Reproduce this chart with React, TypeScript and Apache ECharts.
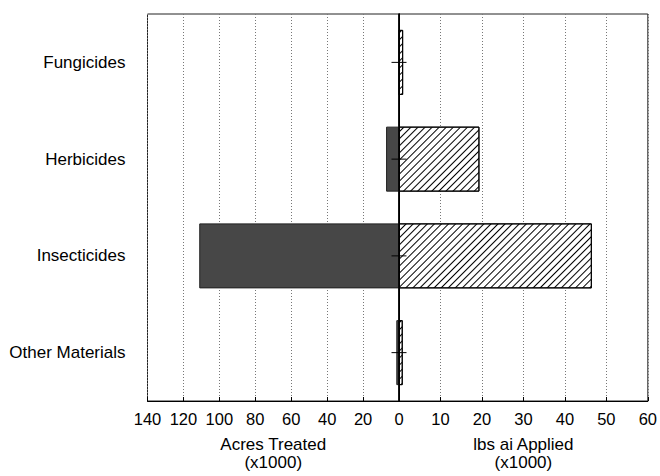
import React, { useEffect, useRef } from "react";
import * as echarts from "echarts";

const categories = ["Fungicides", "Herbicides", "Insecticides", "Other Materials"];
const acresTreated = [0.3, 7.2, 111.2, 1.5];
const lbsApplied = [1.0, 19.4, 46.5, 0.9];
const markerValues = [0, 0, 0, 0];
const acresTicks = { min: 0, max: 140, interval: 20 };
const lbsTicks = { min: 0, max: 60, interval: 10 };

const FONT = "'Liberation Sans', Arial, sans-serif";

export default function App() {
  const ref = useRef<HTMLDivElement>(null);
  useEffect(() => {
    document.body.style.margin = "0";
    const chart = echarts.init(ref.current!, undefined, { renderer: "svg" });
    const gridCommon = { top: 14, bottom: 72, show: true, borderColor: "#222", borderWidth: 1, backgroundColor: "transparent" };
    const xCommon = {
      type: "value" as const,
      axisLine: { show: true, lineStyle: { color: "#000", width: 1 } },
      axisTick: { show: true, inside: true, length: 4, lineStyle: { color: "#000" } },
      splitLine: { show: true, lineStyle: { color: "#777", type: [1, 2], width: 1 } },
      axisLabel: { color: "#000", fontSize: 16.5, fontFamily: FONT, margin: 9 },
      nameLocation: "middle" as const,
      nameGap: 34,
      nameTextStyle: { color: "#000", fontSize: 17, fontFamily: FONT, lineHeight: 18 },
    };
    chart.setOption({
      animation: false,
      grid: [
        { ...gridCommon, left: 147.5, right: 261 },
        { ...gridCommon, left: 399, right: 9.5 },
      ],
      xAxis: [
        {
          ...xCommon,
          gridIndex: 0,
          inverse: true,
          min: acresTicks.min,
          max: acresTicks.max,
          interval: acresTicks.interval,
          name: "Acres Treated\n(x1000)",
        },
        {
          ...xCommon,
          gridIndex: 1,
          min: lbsTicks.min,
          max: lbsTicks.max,
          interval: lbsTicks.interval,
          name: "lbs ai Applied\n(x1000)",
          axisLabel: { ...xCommon.axisLabel, showMinLabel: false },
        },
      ],
      yAxis: [
        {
          type: "category",
          gridIndex: 0,
          data: categories,
          inverse: true,
          axisLine: { show: true, lineStyle: { color: "#000", width: 1 } },
          axisTick: { show: false },
          axisLabel: { color: "#000", fontSize: 17, fontFamily: FONT, margin: 22 },
        },
        {
          type: "category",
          gridIndex: 1,
          data: categories,
          inverse: true,
          axisLine: { show: true, lineStyle: { color: "#000", width: 1.5 } },
          axisTick: { show: false },
          axisLabel: { show: false },
          z: 10,
        },
      ],
      series: [
        {
          type: "bar",
          xAxisIndex: 0,
          yAxisIndex: 0,
          data: acresTreated,
          barWidth: 65,
          itemStyle: { color: "#474747", borderColor: "#222", borderWidth: 1 },
        },
        {
          type: "bar",
          xAxisIndex: 1,
          yAxisIndex: 1,
          data: lbsApplied,
          barWidth: 65,
          itemStyle: {
            color: "#fff",
            borderColor: "#000",
            borderWidth: 1,
            decal: {
              symbol: "rect",
              symbolSize: 1,
              dashArrayX: [1, 0],
              dashArrayY: [1, 4],
              rotation: -Math.PI / 4,
              color: "#000",
            },
          },
        },
        {
          type: "custom",
          xAxisIndex: 1,
          yAxisIndex: 1,
          z: 20,
          data: markerValues.map((v, i) => [v, i]),
          encode: { x: 0, y: 1 },
          renderItem: (params: any, api: any) => {
            const p = api.coord([api.value(0), api.value(1)]);
            return {
              type: "line",
              shape: { x1: p[0] - 7.5, y1: p[1], x2: p[0] + 7.5, y2: p[1] },
              style: { stroke: "#000", lineWidth: 1 },
            };
          },
        },
      ],
    });
    return () => chart.dispose();
  }, []);
  return <div ref={ref} style={{ width: 660, height: 476 }} />;
}
